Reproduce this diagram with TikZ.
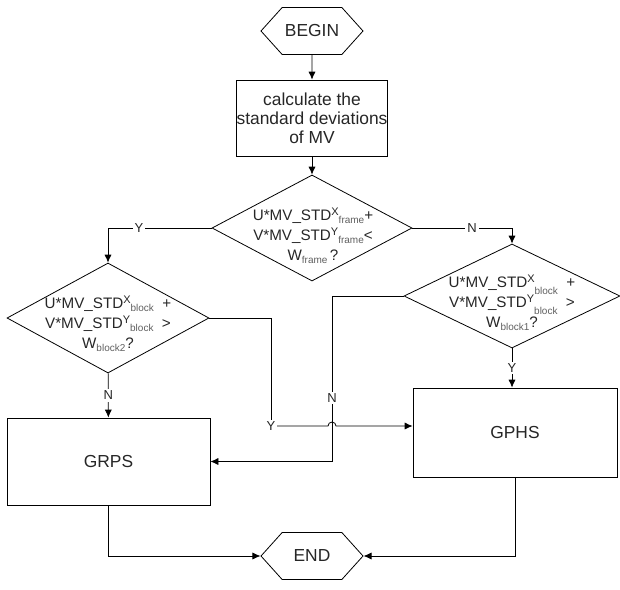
\documentclass[tikz,border=0pt]{standalone}
\usepackage{fontspec}
\setmainfont{Liberation Sans}
\usepackage{tikz}
\usetikzlibrary{shapes.geometric}
\usetikzlibrary{shapes.symbols}
\usetikzlibrary{positioning}
\usetikzlibrary{arrows.meta}
\pgfdeclarelayer{nodelayer}
\pgfdeclarelayer{edgelayer}
\pgfsetlayers{edgelayer,nodelayer,main}
\definecolor{ink}{RGB}{38,38,38}
\definecolor{subink}{RGB}{95,95,95}
\newcommand\supx[1]{\raisebox{.55ex}{\fontsize{5.5}{5.5}\selectfont #1}}
\newcommand\subx[1]{\raisebox{-.45ex}{\fontsize{5}{5}\selectfont\color{subink}#1}}
\newcommand\subl[1]{\raisebox{-.9ex}{\fontsize{5}{5}\selectfont\color{subink}#1}}
\tikzset{every picture/.append style={x=0.5pt, y=0.5pt, line width=0.95pt, >={Latex[length=4pt,width=3.6pt]}}}
\tikzset{term/.style={draw, shape=signal, signal to=west and east, signal pointer angle=96, minimum width=51pt, minimum height=23.5pt, inner sep=0pt, text=ink, font=\fontsize{8.7}{9.5}\selectfont}}
\tikzset{proc/.style={draw, rectangle, inner sep=0pt, align=center, text=ink, font=\fontsize{8.7}{9.5}\selectfont}}
\tikzset{decide/.style={draw, diamond, inner sep=0pt}}
\tikzset{cond/.style={align=center, inner sep=0pt, text=ink, font=\fontsize{7.6}{10}\selectfont}}
\tikzset{yn/.style={fill=white, inner sep=1pt, text=ink, font=\fontsize{6.5}{7}\selectfont}}

\begin{document}
\begin{tikzpicture}
	\useasboundingbox (0, 0) rectangle (620, -589);
	\begin{pgfonlayer}{nodelayer}
		\node [style=term] (0) at (312, -31) {BEGIN};
		\node [style=proc, minimum width=72pt, minimum height=38pt] (1) at (312, -118) {calculate the\\standard deviations\\of MV};
		\node [style=decide, minimum width=100pt, minimum height=53pt] (2) at (312, -228) {};
		\node [style=cond] (3) at (313, -236) {U*MV\_STD\supx{X}\subx{frame}+\\V*MV\_STD\supx{Y}\subx{frame}<\\W\subx{frame}\,?};
		\node [style=decide, minimum width=101pt, minimum height=55pt] (4) at (108, -318) {};
		\node [style=cond] (5) at (108, -324) {U*MV\_STD\supx{X}\subx{block}\ \ +\\V*MV\_STD\supx{Y}\subx{block}\ \ >\\W\subx{block2}?};
		\node [style=decide, minimum width=108pt, minimum height=52pt] (6) at (512, -296) {};
		\node [style=cond] (7) at (512, -303) {U*MV\_STD\supx{X}\subl{block}\ \ +\\V*MV\_STD\supx{Y}\subl{block}\ \ >\\W\subx{block1}?};
		\node [style=proc, minimum width=101.5pt, minimum height=43.5pt] (8) at (108.5, -461.5) {GRPS};
		\node [style=proc, minimum width=102pt, minimum height=44.5pt] (9) at (515, -432.5) {GPHS};
		\node [style=term] (10) at (312, -556) {END};
		\node [style=yn] (15) at (271, -426) {Y};
		\node [style=yn] (16) at (332, -398) {N};
	\end{pgfonlayer}
	\begin{pgfonlayer}{edgelayer}
		\draw [->] (0) to (1);
		\draw [->] (1) to (2);
		\draw [->] (2) -| node [style=yn, pos=0.35] (11) {Y} (4);
		\draw [->] (2) -| node [style=yn, pos=0.3] (12) {N} (6);
		\draw [->] (4) to node [style=yn] (13) {N} (8);
		\draw [->] (6.south) to node [style=yn] (14) {Y} (6.south |- 9.north);
		\draw (4) -| (15.center);
		\draw [->] (15.center) |- ([xshift=-2pt]16.center |- 15.center) arc (180:0:4) -- (15.center -| 9.west);
		\draw (6) -| (16.center);
		\draw [->] (16.center) |- (8.east);
		\draw [->] (8) |- (10);
		\draw [->] (9) |- (10);
	\end{pgfonlayer}
\end{tikzpicture}
\end{document}
